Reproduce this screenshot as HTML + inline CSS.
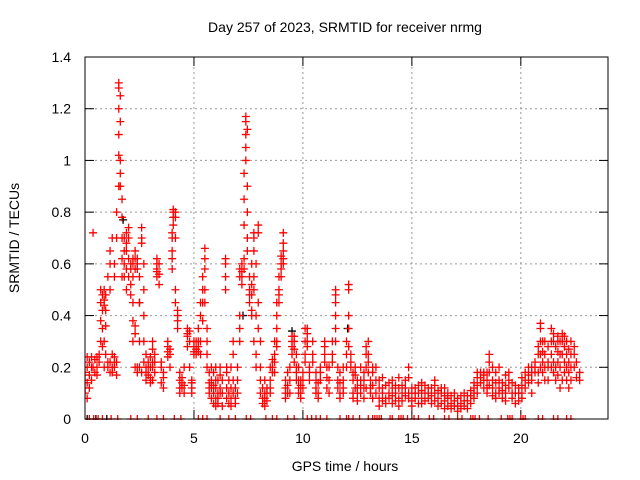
<!DOCTYPE html>
<html><head><meta charset="utf-8"><style>
body{margin:0;background:#fff}
svg{display:block;font-family:"Liberation Sans",sans-serif}
</style></head><body>
<svg id="c" width="640" height="480">
<text x="345" y="32" text-anchor="middle" font-size="14">Day 257 of 2023, SRMTID for receiver nrmg</text>
<text x="345" y="471" text-anchor="middle" font-size="14">GPS time / hours</text>
<text transform="translate(19,238) rotate(-90)" text-anchor="middle" font-size="14">SRMTID / TECUs</text>
<defs><clipPath id="pc"><rect x="85" y="52" width="523" height="368"/></clipPath></defs>
<g id="grid"></g><g id="ticks"></g>
<g id="marks" clip-path="url(#pc)"></g>
<rect x="85" y="57" width="523" height="362" fill="none" stroke="#000" stroke-width="1"/>
</svg>
<script>
const xTicks=[0,5,10,15,20];
const yTicks=[0,0.2,0.4,0.6,0.8,1,1.2,1.4];
const yTickLabels=["0","0.2","0.4","0.6","0.8","1","1.2","1.4"];
const redCols=[
[0.0,.15,.12,.1,.18],[0.1,.2,.14,.08,.24],[0.2,.22,.12,.17],[0.3,.24,.2,.15],[0.37,.72,.2],[0.45,.18,.23],[0.55,.2,.24,.17],[0.65,.22,.25],
[0.72,.3,.38,.45,.5],[0.8,.42,.48,.35,.28],[0.88,.46,.5,.44,.3,.2],[0.95,.48,.42,.36,.25],[1.05,.55,.2,.22],[1.15,.6,.65,.22,.18,.5],
[1.25,.2,.25,.18,.7],[1.35,.22,.2,.24,.55,.6],[1.45,.17,.22,.7,.8],[1.55,.9,1.02,1.1,1.2,1.28,1.3],[1.62,1.0,1.15,.9,.95,1.25],
[1.7,.62,.7,.78,.85,.55],[1.8,.65,.7,.55,.6],[1.9,.5,.58,.65,.72,.68],[2.0,.62,.7,.74,.55],[2.1,.52,.58,.6,.48],[2.2,.62,.6,.55,.45,.38,.3],
[2.3,.33,.36,.62,.65,.58,.2],[2.4,.58,.6,.62,.2,.18],[2.5,.45,.55,.3,.2],[2.6,.7,.74,.68,.18],[2.7,.5,.6,.4,.3,.22],[2.8,.15,.2,.25,.18],
[2.9,.17,.22,.2],[3.0,.16,.2,.24,.14],[3.1,.2,.27,.3,.22,.15],[3.2,.18,.22,.25],[3.3,.55,.58,.6,.62,.57],[3.4,.56,.6,.52],[3.5,.22,.2,.14],
[3.6,.16,.18,.12],[3.8,.24,.28,.26,.3],[3.9,.2,.25,.27],[4.0,.62,.65,.7,.72,.58],[4.05,.8,.78,.75,.81],[4.15,.8,.78,.7,.5,.45],
[4.25,.42,.4,.38,.35],[4.35,.15,.12,.1,.18],[4.45,.14,.12,.16],[4.55,.1,.2,.13],[4.7,.32,.35,.33,.28],[4.8,.3,.34,.2],[4.9,.15,.12,.1,.14],
[5.0,.3,.28,.26,.25],[5.1,.27,.3,.25],[5.2,.28,.26,.3,.35],[5.3,.4,.45,.3,.25],[5.4,.45,.5,.55,.38],[5.5,.62,.66,.58,.5,.45],
[5.6,.3,.25,.2,.35],[5.7,.12,.1,.14,.18],[5.8,.15,.2,.12,.08],[5.9,.06,.1,.13,.18],[6.0,.05,.08,.12,.15,.2],[6.1,.1,.15,.08,.06],
[6.2,.12,.17,.2,.1],[6.3,.15,.1,.05],[6.45,.6,.62,.55,.5],[6.5,.2,.18,.12,.08],[6.6,.1,.06,.15],[6.7,.08,.12,.2,.05],[6.8,.15,.1,.25,.3],
[6.9,.08,.12,.06],[7.0,.1,.15,.2],[7.1,.3,.35,.4,.55,.58],[7.2,.55,.6,.57,.52],[7.3,.58,.62,.75,.85,.95],[7.38,1.1,1.15,1.17,1.05,1.0],
[7.45,.9,.8,.7,.65,1.12],[7.55,.5,.55,.48,.45],[7.65,.48,.52,.42,.4,.6],[7.75,.5,.55,.65,.7,.72,.3],[7.85,.6,.4,.2,.25],[7.95,.72,.75,.45,.35],
[8.05,.3,.2,.1,.15],[8.15,.08,.06,.12],[8.25,.05,.1,.15,.08],[8.35,.1,.12,.07],[8.5,.15,.12,.1,.2],[8.6,.2,.18,.23],[8.7,.22,.25,.3,.18],
[8.8,.28,.35,.4,.45,.3],[8.9,.45,.5,.55,.48],[9.0,.55,.6,.63,.58],[9.1,.62,.68,.72,.65,.6],[9.2,.1,.15,.08,.12],[9.3,.1,.18,.13],
[9.4,.15,.1,.2],[9.5,.3,.28,.25,.32],[9.6,.32,.3,.27,.22],[9.7,.25,.2,.18,.15],[9.8,.2,.15,.12,.1],[9.9,.13,.1,.08,.15],[10.0,.15,.12,.18],
[10.1,.22,.25,.3,.35],[10.2,.3,.35,.33,.28],[10.3,.2,.15,.18],[10.45,.25,.22,.3],[10.6,.15,.12,.18,.1],[10.7,.08,.1,.14],[10.8,.15,.2,.18],
[11.0,.25,.28,.3,.22],[11.1,.2,.16,.12],[11.2,.1,.15,.2],[11.35,.25,.3,.22],[11.5,.35,.4,.45,.5,.48,.3],[11.6,.2,.15,.12],[11.7,.1,.14,.18,.08],
[11.85,.12,.15,.2,.1],[12.0,.2,.25,.3],[12.1,.35,.4,.5,.52,.28],[12.2,.25,.2,.22],[12.3,.15,.18,.1,.08],[12.4,.12,.2,.17],[12.5,.1,.15,.12,.07],
[12.65,.2,.15,.1,.13],[12.8,.15,.08,.12,.18],[12.9,.12,.2,.25,.28],[13.0,.22,.25,.3,.18],[13.1,.12,.15,.1],[13.2,.08,.13,.18,.2],
[13.35,.15,.2,.1],[13.5,.12,.08,.15,.05],[13.65,.1,.12,.16,.07],[13.8,.08,.13,.06],[13.95,.1,.14,.08],[14.1,.12,.09,.15,.06],[14.25,.1,.13,.07],
[14.4,.08,.12,.16,.05],[14.55,.1,.07,.13],[14.7,.12,.09,.15],[14.85,.2,.16,.1,.08],[15.0,.07,.1,.12,.05],[15.15,.08,.12,.1],[15.3,.1,.06,.13],
[15.45,.08,.11,.14,.06],[15.6,.1,.13,.07],[15.75,.12,.08,.1],[15.9,.09,.06,.12],[16.05,.1,.13,.15,.07],[16.2,.08,.11,.05],[16.35,.06,.1,.12],
[16.5,.09,.07,.12,.04],[16.65,.05,.08,.1],[16.8,.06,.09,.04],[16.95,.07,.1,.05],[17.1,.05,.03,.08],[17.25,.06,.09,.04],[17.4,.07,.05,.1],
[17.55,.04,.07,.09],[17.7,.06,.09,.11],[17.85,.08,.1,.12,.14],[18.0,.1,.13,.16,.18],[18.15,.16,.18,.14],[18.3,.18,.17,.15,.12],
[18.45,.15,.12,.1,.18],[18.55,.25,.22,.18,.13],[18.7,.12,.15,.2,.09],[18.85,.1,.14,.18,.08],[19.0,.12,.15,.1,.2],[19.15,.08,.11,.14],
[19.3,.1,.13,.17,.07],[19.45,.12,.15,.18],[19.6,.1,.14,.08],[19.75,.06,.1,.13],[19.9,.07,.1,.12],[20.05,.1,.13,.16,.08],[20.2,.12,.15,.18],
[20.35,.14,.17,.2],[20.5,.15,.18,.2,.1],[20.65,.18,.22,.2],[20.8,.14,.18,.25,.28],[20.9,.25,.3,.35,.37,.2],[21.0,.18,.22,.3,.26],
[21.1,.2,.25,.3,.15],[21.25,.15,.2,.22,.28],[21.4,.2,.25,.3,.35],[21.5,.22,.3,.33,.18],[21.6,.15,.2,.28],[21.7,.17,.22,.26,.3,.32],
[21.8,.2,.25,.3,.12],[21.9,.15,.25,.33,.3],[22.0,.18,.22,.28,.32],[22.1,.15,.2,.25,.3],[22.2,.12,.18,.22,.27],[22.3,.15,.2,.25,.3],
[22.45,.2,.25,.28],[22.55,.16,.22],[22.7,.15,.18]
];
const redZeroTimes=[0.2,0.4,0.6,0.8,1.2,1.5,2.1,2.4,2.9,3.3,3.6,4.1,4.4,5.2,5.4,5.6,6.2,6.6,6.9,7.4,7.6,8.3,8.6,8.8,9.3,9.6,10.2,10.4,10.6,10.8,11.1,11.7,12.0,12.1,12.3,12.6,13.0,13.2,13.3,13.4,13.5,13.6,14.0,14.1,14.4,14.5,14.6,14.8,15.1,15.3,15.8,16.0,16.5,16.7,17.1,17.3,17.7,17.8,17.9,18.1,18.5,19.1,19.4,19.5,19.6,20.0,20.1,20.2,20.8,21.0,21.5,21.7,22.1,22.3];
const blackTimes=[1.75,2.5,7.25,9.5,12.05,0.1,0.5,1.0];
const blackValues=[0.77,0.45,0.4,0.34,0.35,0,0,0];
const X=t=>85+t*523/24, Y=v=>419-v*362/1.4;
const NS="http://www.w3.org/2000/svg";
const grid=document.getElementById('grid'),ticks=document.getElementById('ticks'),marks=document.getElementById('marks');
function el(tag,attrs,parent){const e=document.createElementNS(NS,tag);for(const k in attrs)e.setAttribute(k,attrs[k]);parent.appendChild(e);return e;}
xTicks.forEach(t=>{
  if(t>0){const g=el('line',{x1:X(t),x2:X(t),y1:57,y2:419,stroke:'#999','stroke-dasharray':'2,3'},grid);
  
  }
  el('line',{x1:X(t),x2:X(t),y1:419,y2:410,stroke:'#000'},ticks);
  el('line',{x1:X(t),x2:X(t),y1:57,y2:66,stroke:'#000'},ticks);
  const l=el('text',{x:X(t),y:443,'text-anchor':'middle','font-size':14},ticks);l.textContent=t;
  
  
});
yTicks.forEach((v,i)=>{
  if(v>0&&v<1.4){const g=el('line',{x1:85,x2:608,y1:Y(v),y2:Y(v),stroke:'#999','stroke-dasharray':'2,3'},grid);
  
  }
  el('line',{x1:85,x2:94,y1:Y(v),y2:Y(v),stroke:'#000'},ticks);
  el('line',{x1:599,x2:608,y1:Y(v),y2:Y(v),stroke:'#000'},ticks);
  const l=el('text',{x:71,y:Y(v)+5,'text-anchor':'end','font-size':14},ticks);l.textContent=yTickLabels[i];
  
  
});
function plus(t,v,col,name){
  const x=X(t),y=Y(v);
  const p=el('path',{d:`M${x-4} ${y}h8M${x} ${y-4}v8`,stroke:col,'stroke-width':1.3,fill:'none'},marks);
  
  
}
blackTimes.forEach((t,i)=>plus(t,blackValues[i],'#000','black-point'));
redCols.forEach(c=>{for(let k=1;k<c.length;k++)plus(c[0],c[k],'#f00','red-point');});
redZeroTimes.forEach(t=>plus(t,0,'#f00','red-zero-point'));
</script>
</body></html>
